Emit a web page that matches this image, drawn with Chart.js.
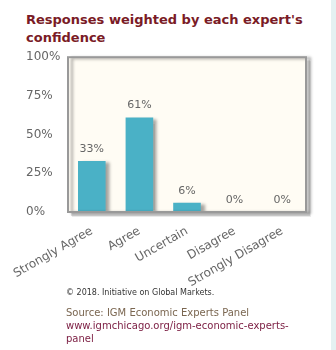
<!DOCTYPE html>
<html>
<head>
<meta charset="utf-8">
<script src="https://cdn.jsdelivr.net/npm/chart.js@4/dist/chart.umd.min.js"></script>
<style>
    body { margin: 0; background: #fff; width: 336px; height: 350px; overflow: hidden; position: relative; font-family: "DejaVu Sans", Verdana, sans-serif; }
    .side { position: absolute; left: 331px; top: 0; width: 5px; height: 350px; background: #e4f1f2; }
    h2 { position: absolute; left: 26px; top: 11px; margin: 0; width: 300px; font-size: 13px; line-height: 18px; color: #7a1b26; font-weight: bold; }
    #wrap { position: absolute; left: 0; top: 40px; width: 330px; height: 250px; }
    .copy { position: absolute; left: 66px; top: 288px; font-size: 8px; color: #333; }
    .source { position: absolute; left: 66px; top: 306px; font-size: 10px; line-height: 13px; color: #7a6650; }
    .source a { color: #7a1b40; text-decoration: none; }
</style>
</head>
<body>
<div class="side"></div>
<h2>Responses weighted by each expert's confidence</h2>
<div id="wrap"><canvas id="chart" width="330" height="250"></canvas></div>
<div class="copy">© 2018. Initiative on Global Markets.</div>
<div class="source">Source: IGM Economic Experts Panel<br><a>www.igmchicago.org/igm-economic-experts-<br>panel</a></div>
<script>
    const categories = ['Strongly Agree', 'Agree', 'Uncertain', 'Disagree', 'Strongly Disagree'];
    const shares = [33, 61, 6, 0, 0];
    const yTicks = [0, 25, 50, 75, 100];

    // plot box: cream fill, grey frame with a thin shadow on the right and bottom
    const plotBox = {
        id: 'plotBox',
        beforeDraw(chart) {
            const { ctx, chartArea: a } = chart;
            ctx.save();
            ctx.fillStyle = 'rgba(0,0,0,0.12)';
            ctx.fillRect(a.left + 3, a.top + 3, a.right - a.left + 1, a.bottom - a.top + 1);
            ctx.fillStyle = 'rgba(0,0,0,0.08)';
            ctx.fillRect(a.left + 4, a.top + 4, a.right - a.left + 1, a.bottom - a.top + 1);
            ctx.fillStyle = '#fffcf4';
            ctx.fillRect(a.left, a.top, a.right - a.left, a.bottom - a.top);
            ctx.restore();
        },
        afterDatasetsDraw(chart) {
            const { ctx, chartArea: a } = chart;
            ctx.save();
            ctx.strokeStyle = '#999';
            ctx.lineWidth = 2;
            ctx.strokeRect(a.left, a.top, a.right - a.left, a.bottom - a.top);
            ctx.restore();
        }
    };

    // drop shadow behind the bars
    const barShadow = {
        id: 'barShadow',
        beforeDatasetsDraw(chart) {
            const ctx = chart.ctx;
            ctx.save();
            ctx.shadowColor = 'rgba(0,0,0,0.35)';
            ctx.shadowBlur = 3;
            ctx.shadowOffsetX = 4;
            ctx.shadowOffsetY = 1;
        },
        afterDatasetsDraw(chart) {
            chart.ctx.restore();
        }
    };

    // value labels above each bar
    const valueLabels = {
        id: 'valueLabels',
        afterDraw(chart) {
            const ctx = chart.ctx;
            const meta = chart.getDatasetMeta(0);
            ctx.save();
            ctx.font = '11px "DejaVu Sans", Verdana, sans-serif';
            ctx.fillStyle = '#666';
            ctx.textAlign = 'center';
            ctx.textBaseline = 'middle';
            meta.data.forEach((bar, i) => {
                ctx.fillText(shares[i] + '%', bar.x, bar.y - 12);
            });
            ctx.restore();
        }
    };

    new Chart(document.getElementById('chart'), {
        type: 'bar',
        data: {
            labels: categories,
            datasets: [{
                data: shares,
                backgroundColor: '#4ab1c6',
                borderWidth: 0,
                categoryPercentage: 1,
                barPercentage: 0.58
            }]
        },
        options: {
            responsive: false,
            animation: false,
            layout: { padding: { top: 17, right: 24, left: 26, bottom: 0 } },
            plugins: { legend: { display: false }, tooltip: { enabled: false } },
            scales: {
                x: {
                    grid: { display: false },
                    border: { display: false },
                    ticks: {
                        maxRotation: 30,
                        minRotation: 30,
                        color: '#666',
                        padding: 4,
                        font: { family: '"DejaVu Sans", Verdana, sans-serif', size: 12 }
                    },
                    afterFit(scale) { scale.height = 78; }
                },
                y: {
                    min: 0,
                    max: 100,
                    grid: { display: false },
                    border: { display: false },
                    afterBuildTicks(scale) { scale.ticks = yTicks.map(v => ({ value: v })); },
                    ticks: {
                        color: '#666',
                        crossAlign: 'far',
                        padding: 10,
                        font: { family: '"DejaVu Sans", Verdana, sans-serif', size: 12 },
                        callback: v => v + '%'
                    },
                    afterFit(scale) { scale.width = 42; }
                }
            }
        },
        plugins: [plotBox, barShadow, valueLabels]
    });
</script>
</body>
</html>
